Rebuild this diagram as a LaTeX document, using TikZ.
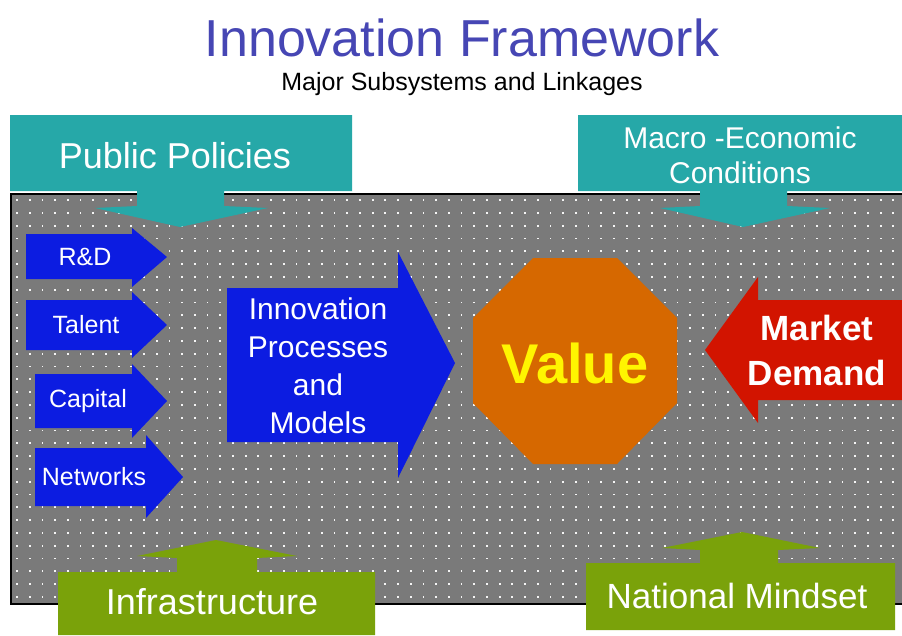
\documentclass[tikz,border=0pt]{standalone}
\usepackage{fontspec}
\setmainfont{Liberation Sans}
\begin{document}
\definecolor{titleblue}{RGB}{70,70,180}
\definecolor{tealbox}{RGB}{38,168,168}
\definecolor{greenbox}{RGB}{122,162,10}
\definecolor{arrowblue}{RGB}{12,28,225}
\definecolor{valueorange}{RGB}{214,104,0}
\definecolor{demandred}{RGB}{210,20,0}
\definecolor{valueyellow}{RGB}{255,245,0}
\definecolor{fieldgray}{RGB}{122,122,122}
\begin{tikzpicture}[x=1pt,y=-1pt,
  fsize/.style={font=\fontsize{#1}{#1}\selectfont},
  bfsize/.style={font=\fontsize{#1}{#1}\selectfont\bfseries},
  boxtext/.style={text=white,align=center,inner sep=0pt},
  smalllabel/.style={boxtext,fsize=25},
]
\useasboundingbox (0,0) rectangle (902,635);
\fill[white] (0,0) rectangle (902,635);

% title
\node[text=titleblue,fsize=52,inner sep=0pt] (title) at (462,38) {Innovation Framework};
\node[fsize=25,inner sep=0pt] (subtitle) at (462,84) {Major Subsystems and Linkages};

% dotted field
\fill[fieldgray] (11,194) rectangle (902,604);
\foreach \i in {0,...,69} {
  \foreach \j in {0,...,31} {
    \fill[white!92!gray] ({17+12.7*\i-0.9},{200+12.8*\j-0.9}) rectangle ++(1.8,1.8);
  }
}
\draw[black,line width=1.4pt] (902,194) -- (11,194) -- (11,604) -- (902,604);

% top boxes with their down arrows
\fill[tealbox] (10,115) -- (352,115) -- (352,191) -- (224,191) -- (224,206)
  -- (268,208) -- (180,227) -- (95,208) -- (137,206) -- (137,191) -- (10,191) -- cycle;
\node[boxtext,fsize=36] (policies) at (175,156) {Public Policies};

\fill[tealbox] (578,115) -- (902,115) -- (902,191) -- (787,191) -- (787,206)
  -- (830,208) -- (743,227) -- (660,208) -- (700,206) -- (700,191) -- (578,191) -- cycle;
\node[boxtext,fsize=30] (macro) at (740,155) {Macro -Economic\\[5pt]Conditions};

% bottom boxes with their up arrows
\fill[greenbox] (58,635) -- (58,572) -- (177,572) -- (177,558) -- (137,556)
  -- (216,540) -- (297,556) -- (257,558) -- (257,572) -- (375,572) -- (375,635) -- cycle;
\node[boxtext,fsize=36] (infra) at (212,602) {Infrastructure};

\fill[greenbox] (586,630) -- (586,563) -- (700,563) -- (700,550) -- (662,548)
  -- (742,532) -- (820,548) -- (778,550) -- (778,563) -- (895,563) -- (895,630) -- cycle;
\node[boxtext,fsize=35] (mindset) at (737,596) {National Mindset};

% input arrows
\fill[arrowblue] (26,234) -- (132,234) -- (132,228) -- (167,257) -- (132,287) -- (132,279) -- (26,279) -- cycle;
\node[smalllabel] (rd) at (85,257) {R\&D};
\fill[arrowblue] (26,300) -- (132,300) -- (132,292) -- (167,325) -- (132,358) -- (132,350) -- (26,350) -- cycle;
\node[smalllabel] (talent) at (86,325) {Talent};
\fill[arrowblue] (35,374) -- (132,374) -- (132,364) -- (167,401) -- (132,438) -- (132,428) -- (35,428) -- cycle;
\node[smalllabel] (capital) at (88,401) {Capital};
\fill[arrowblue] (35,448) -- (146,448) -- (146,435) -- (183,477) -- (146,518) -- (146,506) -- (35,506) -- cycle;
\node[smalllabel] (networks) at (94,477) {Networks};

% innovation processes arrow
\fill[arrowblue] (227,288) -- (398,288) -- (398,252) -- (455,363) -- (398,478) -- (398,442) -- (227,442) -- cycle;
\node[boxtext,fsize=30] (process) at (318,366) {Innovation\\[8pt]Processes\\[8pt]and\\[8pt]Models};

% value octagon
\fill[valueorange] (533,258) -- (617,258) -- (677,318) -- (677,403) -- (617,464)
  -- (533,464) -- (473,403) -- (473,318) -- cycle;
\node[text=valueyellow,bfsize=56,inner sep=0pt] (value) at (575,363) {Value};

% market demand arrow
\fill[demandred] (902,300) -- (758,300) -- (758,277) -- (705,350) -- (758,423) -- (758,400) -- (902,400) -- cycle;
\node[boxtext,bfsize=35] (demand) at (817,350) {Market\\[10pt]Demand};
\end{tikzpicture}
\end{document}
